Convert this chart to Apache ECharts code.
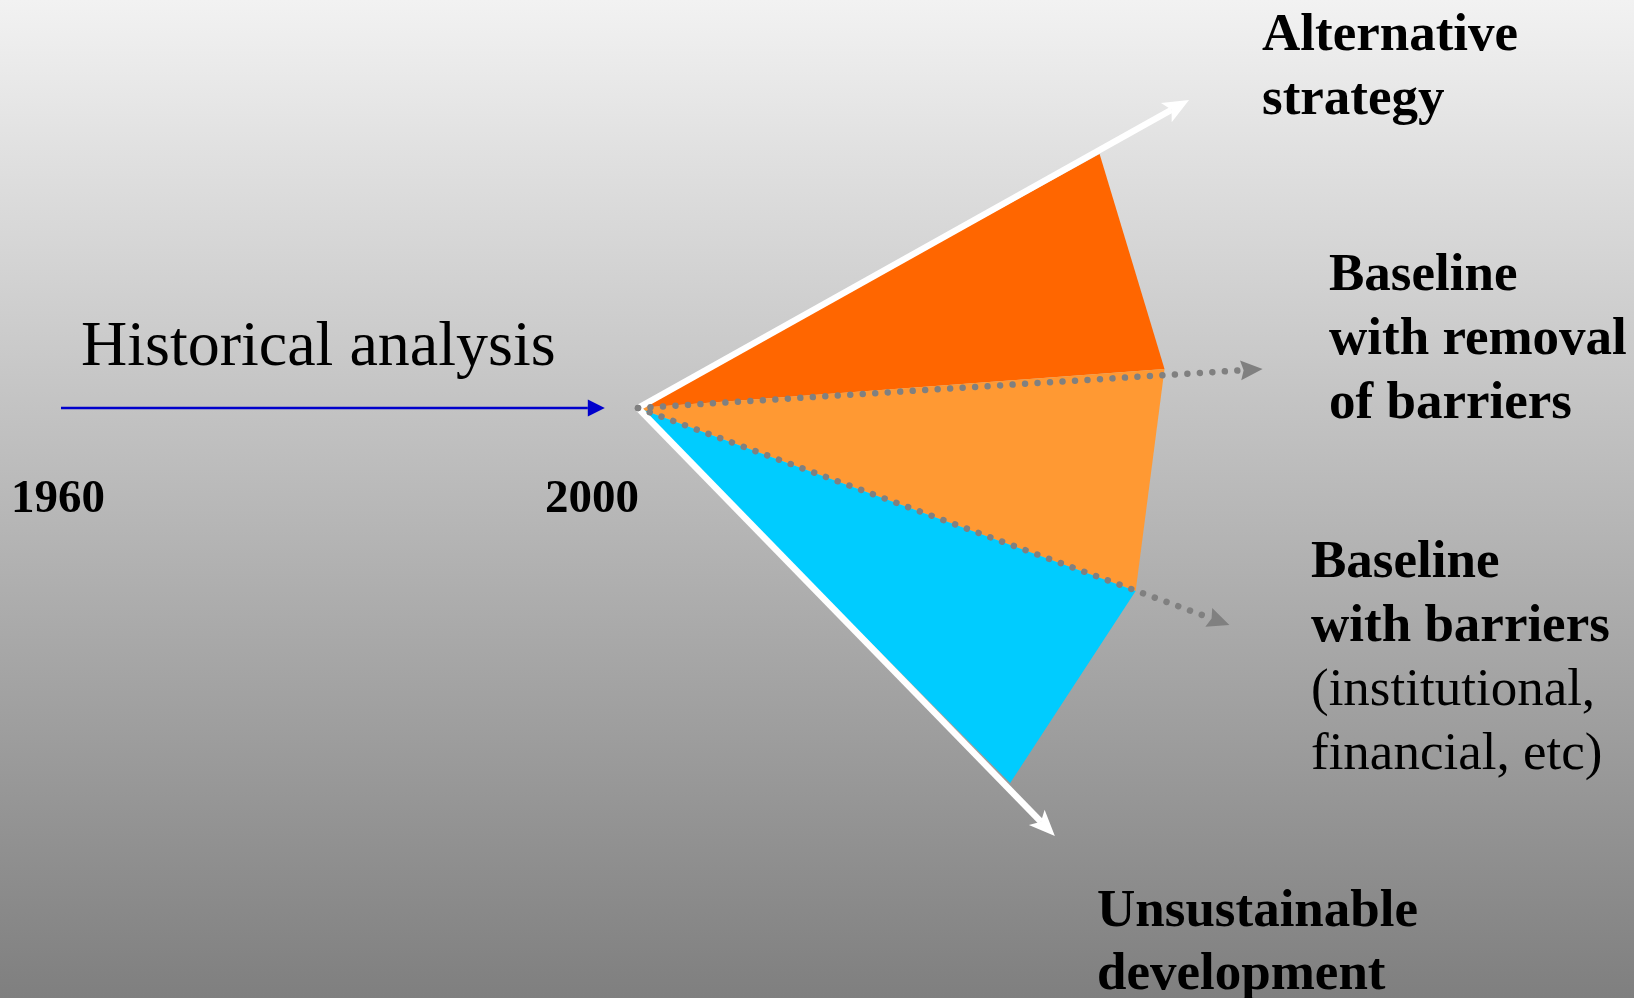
<!DOCTYPE html>
<html>
<head>
<meta charset="utf-8">
<script src="https://cdn.jsdelivr.net/npm/echarts@6/dist/echarts.min.js"></script>
<style>
  html, body { margin: 0; padding: 0; }
  #chart { width: 1634px; height: 998px; }
</style>
</head>
<body>
<div id="chart"></div>
<script>
// ---- data (x = year, y = scenario index units; 2000 is the branching point) ----
const tickYears = ['1960', '2000'];
const historyStart = [1960, 0];
const historyEnd = [1997.7, 0];
const branchPoint = [2000, 0];
const scenarioNames = [
  'Alternative strategy',
  'Baseline with removal of barriers',
  'Baseline with barriers',
  'Unsustainable development'
];
const scenarioEnds = [
  [2038.2, 30.8],
  [2043.3, 3.9],
  [2041.0, -21.7],
  [2028.9, -42.8]
];
const fanDark  = [[2000, 0], [2032.0, 25.4], [2036.5, 3.9]];
const fanLight = [[2000, 0], [2036.5, 3.9], [2034.5, -18.3]];
const fanCyan  = [[2000, 0], [2034.5, -18.3], [2025.8, -37.5]];
const fanPolygons = [fanDark, fanLight, fanCyan];
const fanColors = ['#ff6600', '#ff9933', '#00ccff'];

// arrows: [from, to] pairs built from the values above
const arrowPairs = [
  [historyStart, historyEnd],
  [branchPoint, scenarioEnds[0]],
  [branchPoint, scenarioEnds[3]],
  [branchPoint, scenarioEnds[1]],
  [branchPoint, scenarioEnds[2]]
];
// styles (kept apart from the data): color, width, dash, head length, head half-width, notch
const arrowStyles = [
  { color: '#0000cc', width: 2.6, dash: null, len: 17, half: 8.5, notch: 0 },
  { color: '#ffffff', width: 6.5, dash: null, len: 26, half: 11, notch: 6 },
  { color: '#ffffff', width: 6.5, dash: null, len: 26, half: 11, notch: 6 },
  { color: '#808080', width: 6.5, dash: [0.01, 12.5], len: 22, half: 10, notch: 3 },
  { color: '#808080', width: 6.5, dash: [0.01, 12.5], len: 22, half: 10, notch: 3 }
];

// ---- text lines: [text, x, baseline, size, weight] ----
const SERIF = "'Liberation Serif', 'Times New Roman', serif";
const textLines = [
  ['Historical analysis', 81, 364, 64, 'normal'],
  [tickYears[0], 11, 511, 47, 'bold'],
  [tickYears[1], 545, 511, 47, 'bold'],
  ['Alternative', 1262, 49, 53, 'bold'],
  ['strategy', 1262, 113, 53, 'bold'],
  ['Baseline', 1329, 289, 53, 'bold'],
  ['with removal', 1329, 353, 53, 'bold'],
  ['of barriers', 1329, 417, 53, 'bold'],
  ['Baseline', 1311, 576, 53, 'bold'],
  ['with barriers', 1311, 640, 53, 'bold'],
  ['(institutional,', 1311, 704, 53, 'normal'],
  ['financial, etc)', 1311, 768, 53, 'normal'],
  ['Unsustainable', 1097, 925, 53, 'bold'],
  ['development', 1097, 988, 53, 'bold']
];

const chart = echarts.init(document.getElementById('chart'), null, { renderer: 'canvas' });

function renderArrow(params, api) {
  const pair = arrowPairs[params.dataIndex];
  const st = arrowStyles[params.dataIndex];
  const s = api.coord(pair[0]);
  const e = api.coord(pair[1]);
  const dx = e[0] - s[0], dy = e[1] - s[1];
  const L = Math.sqrt(dx * dx + dy * dy);
  const ux = dx / L, uy = dy / L;
  const px = -uy, py = ux;
  const bx = e[0] - ux * st.len, by = e[1] - uy * st.len;
  const nx = e[0] - ux * (st.len - st.notch), ny = e[1] - uy * (st.len - st.notch);
  const lineStyle = { stroke: st.color, lineWidth: st.width, lineCap: st.dash ? 'round' : 'butt', fill: null };
  if (st.dash) lineStyle.lineDash = st.dash;
  return {
    type: 'group',
    children: [
      {
        type: 'line',
        shape: { x1: s[0], y1: s[1], x2: nx, y2: ny },
        style: lineStyle
      },
      {
        type: 'polygon',
        shape: { points: [[e[0], e[1]], [bx + px * st.half, by + py * st.half], [nx, ny], [bx - px * st.half, by - py * st.half]] },
        style: { fill: st.color }
      }
    ]
  };
}

const option = {
  animation: false,
  backgroundColor: {
    type: 'linear', x: 0, y: 0, x2: 0, y2: 1,
    colorStops: [
      { offset: 0, color: '#f2f2f2' },
      { offset: 1, color: '#7f7f7f' }
    ]
  },
  grid: { left: 61, right: 130.5, top: 8, bottom: 10 },
  xAxis: { type: 'value', min: 1960, max: 2060, show: false },
  yAxis: { type: 'value', min: -58, max: 40, show: false },
  series: [
    {
      type: 'custom',
      z: 1,
      silent: true,
      clip: false,
      data: fanPolygons.map(p => p[1]),
      renderItem: function (params, api) {
        const poly = fanPolygons[params.dataIndex];
        return {
          type: 'polygon',
          shape: { points: poly.map(pt => api.coord(pt)) },
          style: { fill: fanColors[params.dataIndex] }
        };
      }
    },
    {
      type: 'custom',
      z: 3,
      silent: true,
      clip: false,
      data: arrowPairs.map(p => p[1]),
      renderItem: renderArrow
    }
  ],
  graphic: textLines.map(t => ({
    type: 'text',
    x: t[1],
    y: t[2] - 0.24 * t[3],
    silent: true,
    z: 10,
    style: {
      text: t[0],
      fill: '#000000',
      font: t[4] + ' ' + t[3] + 'px ' + SERIF,
      textAlign: 'left',
      verticalAlign: 'middle'
    }
  }))
};

chart.setOption(option);
</script>
</body>
</html>
